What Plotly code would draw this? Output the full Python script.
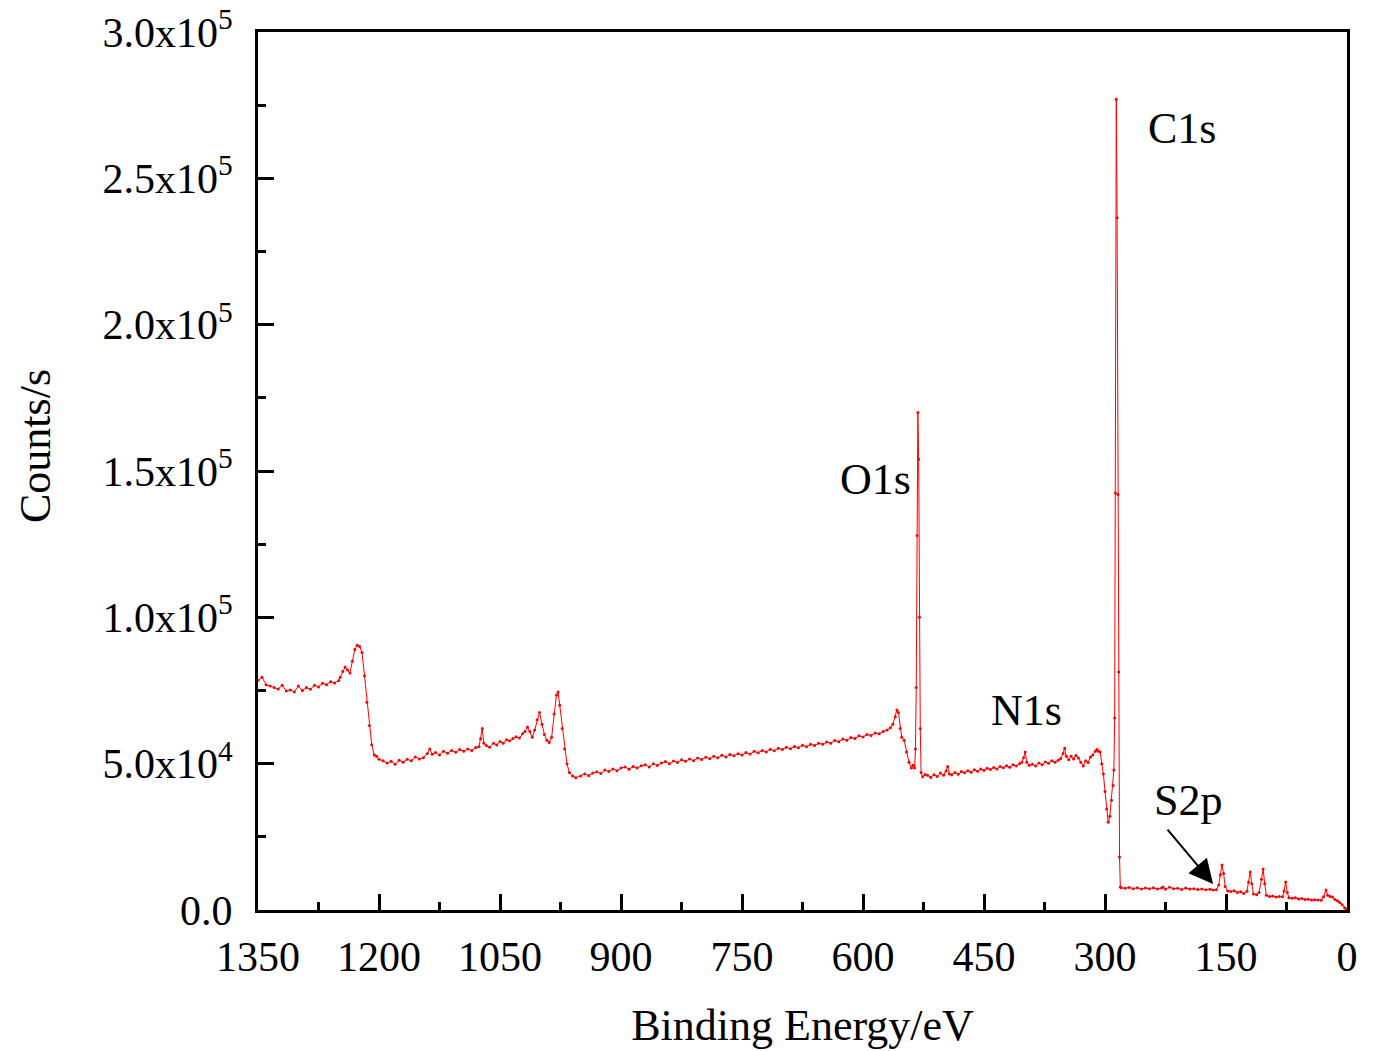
import plotly.graph_objects as go

# ---- Survey XPS spectrum (Binding energy in eV, counts/s in thousands) ----
be_a = [1350, 1345, 1340, 1335, 1330, 1325, 1320, 1315, 1310, 1305, 1300, 1295, 1290, 1285,
        1280, 1275, 1270, 1265, 1260, 1255, 1250]
ct_a = [78.5, 79.5, 77.0, 76.5, 76.0, 75.5, 76.8, 74.8, 75.2, 74.5, 76.5, 75.0, 76.0, 75.4,
        76.8, 76.2, 77.5, 77.0, 78.0, 77.6, 78.4]

be_b = [1248, 1245, 1242, 1239, 1236, 1233, 1230, 1227, 1224, 1221, 1218, 1215, 1212, 1209,
        1206, 1203, 1200]
ct_b = [79.5, 81.5, 83.0, 82.0, 81.0, 85.0, 89.0, 90.5, 90.0, 88.0, 80.0, 71.0, 63.0, 56.5,
        53.0, 52.5, 51.5]

be_c = [1195, 1190, 1185, 1180, 1175, 1170, 1165, 1160, 1155, 1150, 1145, 1140, 1137, 1134,
        1130, 1125, 1120, 1115, 1110, 1105, 1100, 1095, 1090, 1085, 1080, 1076, 1074, 1072,
        1070, 1067, 1063]
ct_c = [51.0, 50.2, 50.8, 49.8, 51.2, 50.5, 51.5, 51.0, 52.3, 51.6, 52.0, 53.5, 55.0, 53.2,
        53.8, 53.0, 54.2, 53.6, 54.5, 53.9, 54.8, 54.2, 55.0, 54.5, 55.5, 55.8, 58.5, 62.0,
        57.0, 56.2, 55.6]

be_d = [1058, 1054, 1050, 1046, 1042, 1038, 1034, 1030, 1026, 1022, 1019, 1016, 1013, 1010,
        1007, 1004, 1001, 998, 995, 992, 989, 986, 983, 980, 978, 976, 973, 970, 967, 964,
        960, 956]
ct_d = [57.0, 56.4, 57.6, 57.0, 58.2, 57.8, 58.6, 59.2, 58.8, 60.2, 61.0, 62.5, 61.0, 59.0,
        61.5, 65.0, 67.5, 63.5, 60.0, 58.0, 57.2, 59.0, 67.0, 73.5, 74.5, 70.0, 62.0, 55.0,
        50.0, 47.0, 45.8, 45.2]

be_e = [950, 945, 940, 935, 930, 925, 920, 915, 910, 905, 900, 895, 890, 885, 880, 875, 870,
        865, 860, 855, 850, 845, 840, 835, 830, 825, 820, 815, 810, 805, 800, 795, 790, 785,
        780, 775, 770, 765, 760, 755, 750, 745, 740, 735, 730, 725, 720, 715, 710, 705, 700,
        695, 690, 685, 680, 675, 670, 665, 660, 655, 650, 645, 640, 635, 630, 625, 620, 615,
        610, 605, 600, 595, 590, 585, 580, 575, 570, 566]
ct_e = [45.8, 46.5, 45.9, 46.8, 47.2, 46.6, 47.8, 47.3, 48.2, 47.6, 48.5, 48.9, 48.1, 49.0,
        48.5, 49.3, 49.6, 48.9, 50.0, 49.4, 50.2, 50.7, 50.0, 50.9, 50.4, 51.3, 50.8, 51.6,
        51.0, 51.9, 51.4, 52.2, 51.7, 52.5, 52.0, 52.9, 52.3, 53.1, 52.7, 53.4, 53.0, 53.8,
        53.3, 54.2, 53.7, 54.5, 54.0, 54.9, 54.4, 55.3, 54.8, 55.6, 55.1, 55.9, 55.4, 56.3,
        55.8, 56.6, 56.2, 57.0, 56.6, 57.4, 57.0, 57.9, 57.5, 58.4, 58.0, 58.9, 58.6, 59.5,
        59.1, 60.0, 59.6, 60.5, 60.2, 61.0, 61.5, 62.3]

be_f = [563, 560, 558, 556, 554, 552, 549, 546, 543, 540, 538, 536, 535, 534, 533, 532, 531,
        530, 529, 528, 526, 523]
ct_f = [63.5, 66.0, 68.3, 67.5, 62.0, 59.0, 58.0, 54.0, 50.5, 48.5, 49.5, 48.5, 55.0, 76.0,
        128.0, 170.0, 154.0, 100.0, 62.0, 47.0, 45.5, 46.3]

be_g = [520, 516, 512, 508, 504, 500, 497, 495, 493, 490, 486, 482, 478, 474, 470, 466, 462,
        458, 454, 450, 446, 442, 438, 434, 430, 426, 422, 418, 414, 410, 406, 403, 401, 399,
        397, 394, 390, 386, 382, 378, 374, 370, 366, 362, 358, 355, 352, 350, 348, 345, 342,
        339, 336, 333, 330, 327, 324, 321, 318, 315, 312, 310, 308, 306, 304, 302, 300, 298,
        296, 294, 292, 290, 289, 288, 287, 286, 285, 284, 283, 282, 281]
ct_g = [46.0, 45.3, 46.2, 45.6, 46.8, 46.0, 47.5, 49.0, 46.5, 46.2, 47.0, 46.4, 47.3, 46.9,
        47.6, 47.1, 47.9, 47.4, 48.2, 47.7, 48.4, 48.0, 48.7, 48.2, 49.0, 48.6, 49.3, 48.8,
        49.6, 49.2, 50.0, 50.5, 52.0, 54.0, 50.5, 49.5, 49.8, 49.2, 50.2, 49.6, 50.6, 50.1,
        51.0, 50.5, 51.2, 51.8, 53.5, 55.3, 52.5, 51.3, 52.5, 51.6, 52.8, 51.9, 50.5, 49.2,
        51.0, 50.4, 52.3, 53.0, 54.2, 54.8, 54.2, 54.0, 50.0, 46.5, 40.5, 34.5, 30.0, 32.0,
        37.5, 42.5, 47.8, 65.6, 142.5, 277.0, 236.5, 142.0, 81.3, 18.1, 7.9]

be_h = [280, 275, 270, 265, 260, 255, 250, 245, 240, 235, 230, 228, 225, 220, 215, 210, 205,
        200, 195, 190, 185, 180, 175, 170, 166, 162, 159, 157, 155, 153, 151, 148, 144, 140,
        136, 132, 128, 124, 122, 120, 118, 116, 112, 109, 106, 104, 102, 100, 96, 92, 88, 84,
        80, 78, 76, 74, 72, 68, 64, 60, 56, 52, 48, 44, 40, 36, 32, 29, 26, 24, 21, 18, 15,
        12, 9, 6, 3, 1]
ct_h = [7.6, 7.4, 7.7, 7.3, 7.6, 7.2, 7.5, 7.3, 7.6, 7.2, 7.5, 7.9, 7.1, 7.8, 7.3, 7.4, 7.0,
        7.5, 7.2, 7.3, 7.0, 7.2, 6.9, 7.1, 6.8, 6.9, 8.5, 12.0, 15.4, 12.5, 8.0, 6.5, 6.3, 6.6,
        6.0, 6.2, 5.6, 6.4, 9.5, 13.0, 9.0, 5.5, 5.2, 6.0, 10.5, 14.0, 9.0, 5.0, 4.6, 4.8, 4.4,
        4.6, 4.5, 6.5, 9.6, 6.0, 4.2, 4.0, 4.2, 3.8, 3.9, 3.6, 3.7, 3.4, 3.5, 3.4, 3.3, 4.5,
        6.8, 5.0, 4.6, 4.4, 3.6, 3.2, 2.6, 1.8, 0.8, 0.3]

binding_energy = be_a + be_b + be_c + be_d + be_e + be_f + be_g + be_h
counts_k = ct_a + ct_b + ct_c + ct_d + ct_e + ct_f + ct_g + ct_h
counts = [v * 1000 for v in counts_k]

y_tickvals = [0, 50000, 100000, 150000, 200000, 250000, 300000]
y_ticktext = ["0.0", "5.0x10<sup>4</sup>", "1.0x10<sup>5</sup>", "1.5x10<sup>5</sup>",
              "2.0x10<sup>5</sup>", "2.5x10<sup>5</sup>", "3.0x10<sup>5</sup>"]
x_tickvals = [1350, 1200, 1050, 900, 750, 600, 450, 300, 150, 0]

peak_labels = ["C1s", "O1s", "N1s", "S2p"]
peak_label_x = [205, 584, 397, 197]
peak_label_y = [267000, 147000, 68000, 37500]

FONT = "Liberation Serif, Times New Roman, serif"

plot_w = 1376 - 258 - 29
plot_h = 1051 - 32 - 141

fig = go.Figure()
fig.add_trace(go.Scatter(
    x=binding_energy, y=counts, mode="lines+markers",
    line=dict(color="#ff0000", width=1),
    marker=dict(color="#ff0000", size=3),
    showlegend=False,
))

for t, lx, ly in zip(peak_labels, peak_label_x, peak_label_y):
    fig.add_annotation(x=lx, y=ly, text=t, showarrow=False,
                       font=dict(family=FONT, size=44, color="black"))

# arrow pointing to S2p
fig.add_annotation(x=166, y=8900, ax=224, ay=28000, axref="x", ayref="y",
                   text="", showarrow=True, arrowhead=2, arrowsize=2.4,
                   arrowwidth=2, arrowcolor="black")

# y-axis title as a rotated annotation (centre at ~x=35px, y=446px)
fig.add_annotation(x=(35 - 258) / plot_w, y=(910 - 446) / plot_h,
                   xref="paper", yref="paper", xanchor="center", yanchor="middle",
                   text="Counts/s", textangle=-90, showarrow=False,
                   font=dict(family=FONT, size=44, color="black"))

fig.update_layout(
    width=1376, height=1051,
    margin=dict(l=258, r=29, t=32, b=141),
    paper_bgcolor="white", plot_bgcolor="white",
    font=dict(family=FONT, color="black"),
)

fig.update_xaxes(
    range=[1350, 0], tickvals=x_tickvals, ticks="inside", ticklen=16, tickwidth=3,
    tickcolor="black", showline=True, linewidth=3, linecolor="black", mirror=True,
    showgrid=False, zeroline=False, tickfont=dict(family=FONT, size=42),
    ticklabelstandoff=8, automargin=False,
    minor=dict(dtick=75, tick0=0, ticks="inside", ticklen=8, tickwidth=3, tickcolor="black"),
    title=dict(text="Binding Energy/eV", font=dict(family=FONT, size=44), standoff=30),
)
fig.update_yaxes(
    range=[0, 300000], tickvals=y_tickvals, ticktext=y_ticktext, ticks="inside",
    ticklen=16, tickwidth=3, tickcolor="black", showline=True, linewidth=3,
    linecolor="black", mirror=True, showgrid=False, zeroline=False,
    tickfont=dict(family=FONT, size=42), ticklabelstandoff=14, automargin=False,
    minor=dict(dtick=25000, tick0=0, ticks="inside", ticklen=8, tickwidth=3, tickcolor="black"),
)

fig.write_html("out.html")
